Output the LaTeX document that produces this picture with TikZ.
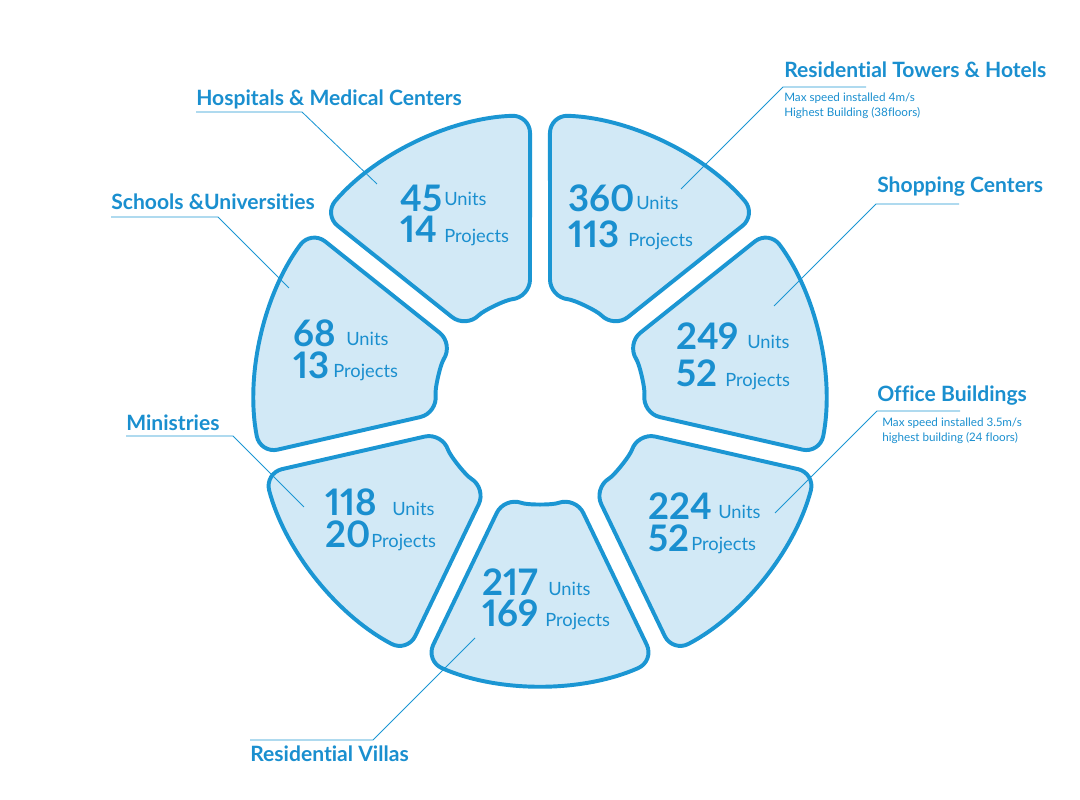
\documentclass[tikz,border=0pt]{standalone}
\usepackage{fontspec}
\setmainfont{Lato}[Ligatures=NoCommon, Numbers=Proportional]
\usepackage{tikz}
\definecolor{segblue}{HTML}{1B96D3}
\definecolor{segfill}{HTML}{D2E9F6}
\definecolor{txtblue}{HTML}{1A8FCF}
\tikzstyle{seg}=[draw=segblue, fill=segfill, line width=2.8pt, rounded corners=0.45cm, line join=round]
\tikzstyle{num}=[inner sep=0pt, anchor=base west, text=txtblue, font=\bfseries\fontsize{26}{26}\selectfont]
\tikzstyle{unit}=[inner sep=0pt, anchor=base west, text=txtblue, font=\fontsize{13}{13}\selectfont]
\tikzstyle{title}=[inner sep=0pt, anchor=base west, text=txtblue, font=\bfseries\fontsize{15}{15}\selectfont]
\tikzstyle{note}=[inner sep=0pt, anchor=base west, text=txtblue, font=\fontsize{8.3}{8.3}\selectfont]
\tikzstyle{leader}=[draw=segblue, line width=0.6pt]

\begin{document}
\begin{tikzpicture}[x=0.025cm, y=0.025cm]
				\useasboundingbox (0,0) rectangle (1080,800);

				%The segments
				\draw[seg, shift={(540,400)}] (88:285) arc[start angle=88, end angle=40.57, radius=285] -- (44.14:103) arc[start angle=44.14, end angle=84.43, radius=103] -- cycle;
				\draw[seg, shift={(540,400)}] (36.56:285) arc[start angle=36.56, end angle=-10.85, radius=285] -- (-7.29:103) arc[start angle=-7.29, end angle=33.0, radius=103] -- cycle;
				\draw[seg, shift={(540,400)}] (-14.87:285) arc[start angle=-14.87, end angle=-62.28, radius=285] -- (-58.72:103) arc[start angle=-58.72, end angle=-18.43, radius=103] -- cycle;
				\draw[seg, shift={(540,400)}] (-66.3:285) arc[start angle=-66.3, end angle=-113.7, radius=285] -- (-110.14:103) arc[start angle=-110.14, end angle=-69.86, radius=103] -- cycle;
				\draw[seg, shift={(540,400)}] (-117.72:285) arc[start angle=-117.72, end angle=-165.13, radius=285] -- (-161.57:103) arc[start angle=-161.57, end angle=-121.28, radius=103] -- cycle;
				\draw[seg, shift={(540,400)}] (-169.15:285) arc[start angle=-169.15, end angle=-216.56, radius=285] -- (-213.0:103) arc[start angle=-213.0, end angle=-172.71, radius=103] -- cycle;
				\draw[seg, shift={(540,400)}] (139.42:285) arc[start angle=139.42, end angle=92, radius=285] -- (95.57:103) arc[start angle=95.57, end angle=135.86, radius=103] -- cycle;

				%The figures
				\draw (400,588) node[num] (hosp-n) {45};
				\draw (444,594) node[unit] (hosp-u) {Units};
				\draw (400,557) node[num] (hosp-p) {14};
				\draw (444,557) node[unit] (hosp-q) {Projects};

				\draw (568,588) node[num] (tow-n) {360};
				\draw (636,590) node[unit] (tow-u) {Units};
				\draw (568,552) node[num] (tow-p) {113};
				\draw (628,553) node[unit] (tow-q) {Projects};

				\draw (676,450) node[num] (shop-n) {249};
				\draw (747,451) node[unit] (shop-u) {Units};
				\draw (676,413) node[num] (shop-p) {52};
				\draw (725,413) node[unit] (shop-q) {Projects};

				\draw (648,280) node[num] (off-n) {224};
				\draw (718,281) node[unit] (off-u) {Units};
				\draw (648,248) node[num] (off-p) {52};
				\draw (691,249) node[unit] (off-q) {Projects};

				\draw (482,204) node[num] (vil-n) {217};
				\draw (548,204) node[unit] (vil-u) {Units};
				\draw (482,173) node[num] (vil-p) {169};
				\draw (545,173) node[unit] (vil-q) {Projects};

				\draw (325,284) node[num] (min-n) {118};
				\draw (392,284) node[unit] (min-u) {Units};
				\draw (325,252) node[num] (min-p) {20};
				\draw (371,252) node[unit] (min-q) {Projects};

				\draw (293,453) node[num] (sch-n) {68};
				\draw (346,454) node[unit] (sch-u) {Units};
				\draw (293,421) node[num] (sch-p) {13};
				\draw (333,422) node[unit] (sch-q) {Projects};

				%The titles
				\draw (196,694) node[title] (hosp) {Hospitals \& Medical Centers};
				\draw (111,590) node[title] (sch) {Schools \&Universities};
				\draw (126,369) node[title] (min) {Ministries};
				\draw (250,38) node[title] (vil) {Residential Villas};
				\draw (784,722) node[title] (tow) {Residential Towers \& Hotels};
				\draw (784,698) node[note] (tow-a) {Max speed installed 4m/s};
				\draw (784,683) node[note] (tow-b) {Highest Building (38floors)};
				\draw (877,607) node[title] (shop) {Shopping Centers};
				\draw (877,398) node[title] (off) {Office Buildings};
				\draw (882,373) node[note] (off-a) {Max speed installed 3.5m/s};
				\draw (882,358) node[note] (off-b) {highest building (24 floors)};

				%The leaders
				\coordinate (hosp-l) at (196,688);
				\coordinate (hosp-k) at (302,688);
				\coordinate (hosp-e) at (377,616);
				\coordinate (sch-l) at (111,583);
				\coordinate (sch-k) at (218,583);
				\coordinate (sch-e) at (289,512);
				\coordinate (min-l) at (126,364);
				\coordinate (min-k) at (233,364);
				\coordinate (min-e) at (304,293);
				\coordinate (vil-l) at (250,60);
				\coordinate (vil-k) at (373,60);
				\coordinate (vil-e) at (475,162);
				\coordinate (tow-k) at (783,713);
				\coordinate (tow-r) at (866,713);
				\coordinate (tow-e) at (681,611);
				\coordinate (shop-k) at (876,596);
				\coordinate (shop-r) at (959,596);
				\coordinate (shop-e) at (774,494);
				\coordinate (off-k) at (877,389);
				\coordinate (off-r) at (960,389);
				\coordinate (off-e) at (775,287);

				\draw[leader] (hosp-l) -- (hosp-k) -- (hosp-e);
				\draw[leader] (sch-l) -- (sch-k) -- (sch-e);
				\draw[leader] (min-l) -- (min-k) -- (min-e);
				\draw[leader] (vil-l) -- (vil-k) -- (vil-e);
				\draw[leader] (tow-r) -- (tow-k) -- (tow-e);
				\draw[leader] (shop-r) -- (shop-k) -- (shop-e);
				\draw[leader] (off-r) -- (off-k) -- (off-e);
			\end{tikzpicture}
\end{document}
